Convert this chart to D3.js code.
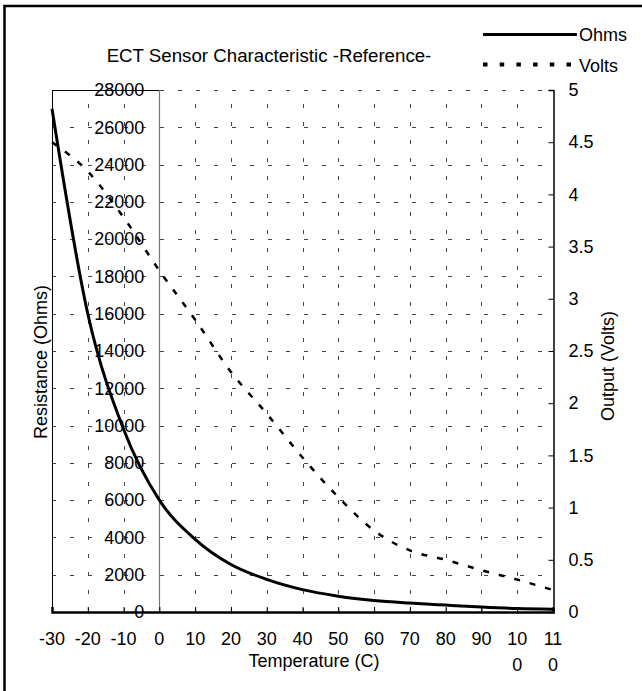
<!DOCTYPE html>
<html>
<head>
<meta charset="utf-8">
<script src="https://d3js.org/d3.v7.min.js"></script>
<style>
  body { margin: 0; background: #fff; }
  svg { display: block; font-family: Arial, "Liberation Sans", sans-serif; }
</style>
</head>
<body>
<script>
// data
const temps = [-30, -20, -10, 0, 10, 20, 30, 40, 50, 60, 70, 80, 90, 100, 110]
const ohms = [27000, 16000, 9800, 6000, 3900, 2550, 1750, 1200, 850, 620, 480, 370, 270, 190, 150]
const volts = [4.50, 4.22, 3.78, 3.27, 2.80, 2.30, 1.90, 1.48, 1.10, 0.78, 0.59, 0.50, 0.40, 0.31, 0.21]
const ohmTicks = d3.range(0, 28001, 2000)
const voltTicks = d3.range(0, 5.01, 0.5)
const seriesNames = ['Ohms', 'Volts']

const W = 642, H = 691
const plot = { left: 52, right: 553, top: 90, bottom: 612 }
const fs = 18

const svg = d3.select('body').append('svg')
  .attr('width', W)
  .attr('height', H)

svg.append('rect').attr('width', W).attr('height', H).attr('fill', '#fff')

// outer frame (runs off the picture on the right and bottom)
svg.append('rect')
  .attr('x', 4.5).attr('y', 6)
  .attr('width', 700).attr('height', 720)
  .attr('fill', 'none')
  .attr('stroke', '#000')
  .attr('stroke-width', 2.5)

const x = d3.scaleLinear().domain([-30, 110]).range([plot.left, plot.right])
const yOhm = d3.scaleLinear().domain([0, 28000]).range([plot.bottom, plot.top])
const yVolt = d3.scaleLinear().domain([0, 5]).range([plot.bottom, plot.top])

/*
GRID
*/

const grid = svg.append('g')
  .attr('stroke', '#444')
  .attr('stroke-width', 1)
  .attr('stroke-dasharray', '4,14')

grid.selectAll('.hgrid')
  .data(ohmTicks.filter(d => d > 0))
  .enter().append('line')
  .attr('x1', plot.left).attr('x2', plot.right)
  .attr('y1', d => Math.round(yOhm(d)) + 0.5)
  .attr('y2', d => Math.round(yOhm(d)) + 0.5)

grid.selectAll('.vgrid')
  .data(temps.filter(d => d > -30 && d < 110 && d !== 0))
  .enter().append('line')
  .attr('x1', d => Math.round(x(d)) + 0.5)
  .attr('x2', d => Math.round(x(d)) + 0.5)
  .attr('y1', plot.bottom).attr('y2', plot.top)

// top border: solid up to the y axis
svg.append('line')
  .attr('x1', plot.left).attr('x2', x(0))
  .attr('y1', plot.top + 0.5).attr('y2', plot.top + 0.5)
  .attr('stroke', '#000')

// left border
svg.append('line')
  .attr('x1', plot.left + 0.5).attr('x2', plot.left + 0.5)
  .attr('y1', plot.top).attr('y2', plot.bottom)
  .attr('stroke', '#000')

// y axis drawn at 0 C
svg.append('line')
  .attr('x1', Math.round(x(0)) + 0.5).attr('x2', Math.round(x(0)) + 0.5)
  .attr('y1', plot.top).attr('y2', plot.bottom)
  .attr('stroke', '#777')
  .attr('stroke-width', 1.2)

/*
AXES
*/

// left axis labels (Ohms)
const leftAxis = svg.append('g')
  .attr('transform', `translate(${x(0) - 15},0)`)
  .call(d3.axisLeft(yOhm).tickValues(ohmTicks).tickSize(0).tickPadding(0).tickFormat(d3.format('d')))
leftAxis.select('.domain').remove()
leftAxis.selectAll('text')
  .attr('font-size', fs)
  .attr('font-family', 'Arial, "Liberation Sans", sans-serif')
  .attr('fill', '#000')

// right axis (Volts)
const rightAxis = svg.append('g')
  .attr('transform', `translate(${plot.right + 0.5},0)`)
  .call(d3.axisRight(yVolt).tickValues(voltTicks).tickSize(-5).tickPadding(15).tickFormat(d3.format('')))
rightAxis.select('.domain').attr('stroke', '#000').attr('stroke-width', 1.5)
rightAxis.selectAll('text')
  .attr('font-size', fs)
  .attr('font-family', 'Arial, "Liberation Sans", sans-serif')
  .attr('fill', '#000')

// bottom axis (Temperature)
const bottomAxis = svg.append('g')
  .attr('transform', `translate(0,${plot.bottom})`)
  .call(d3.axisBottom(x).tickValues(temps).tickSize(-5).tickPadding(0).tickFormat(''))
bottomAxis.select('.domain').attr('stroke', '#000').attr('stroke-width', 2.5)

// tick labels, 3-digit ones wrap like in the reference
const xLabels = svg.append('g')
  .attr('font-size', fs)
  .attr('text-anchor', 'middle')
xLabels.selectAll('text')
  .data(temps)
  .enter().append('text')
  .attr('x', d => x(d))
  .attr('y', 645)
  .each(function (d) {
    const s = String(d)
    const t = d3.select(this)
    if (d >= 100) {
      t.append('tspan').attr('x', x(d)).text(s.slice(0, 2))
      t.append('tspan').attr('x', x(d)).attr('dy', 26).text(s.slice(2))
    } else {
      t.text(s)
    }
  })

/*
LINES
*/

const ohmLine = d3.line()
  .x((d, i) => x(temps[i]))
  .y(d => yOhm(d))
  .curve(d3.curveMonotoneX)

const voltLine = d3.line()
  .x((d, i) => x(temps[i]))
  .y(d => yVolt(d))
  .curve(d3.curveMonotoneX)

svg.append('path')
  .datum(volts)
  .attr('d', voltLine)
  .attr('fill', 'none')
  .attr('stroke', '#000')
  .attr('stroke-width', 2.5)
  .attr('stroke-dasharray', '6,10')

svg.append('path')
  .datum(ohms)
  .attr('d', ohmLine)
  .attr('fill', 'none')
  .attr('stroke', '#000')
  .attr('stroke-width', 3)

/*
TITLES
*/

svg.append('text')
  .attr('x', 269).attr('y', 62)
  .attr('text-anchor', 'middle')
  .attr('font-size', 18.7)
  .text('ECT Sensor Characteristic -Reference-')

svg.append('text')
  .attr('x', 314).attr('y', 667)
  .attr('text-anchor', 'middle')
  .attr('font-size', fs)
  .text('Temperature (C)')

svg.append('text')
  .attr('transform', 'translate(47,362) rotate(-90)')
  .attr('text-anchor', 'middle')
  .attr('font-size', fs)
  .text('Resistance (Ohms)')

svg.append('text')
  .attr('transform', 'translate(614,366) rotate(-90)')
  .attr('text-anchor', 'middle')
  .attr('font-size', fs)
  .text('Output (Volts)')

/*
LEGEND
*/

const legend = svg.append('g')
legend.selectAll('line')
  .data(seriesNames)
  .enter().append('line')
  .attr('x1', 483).attr('x2', 577)
  .attr('y1', (d, i) => 34.5 + i * 30)
  .attr('y2', (d, i) => 34.5 + i * 30)
  .attr('stroke', '#000')
  .attr('stroke-width', (d, i) => i === 0 ? 3 : 4)
  .attr('stroke-dasharray', (d, i) => i === 0 ? null : '4.5,12.2')

legend.selectAll('text')
  .data(seriesNames)
  .enter().append('text')
  .attr('x', 579)
  .attr('y', (d, i) => 41 + i * 31)
  .attr('font-size', fs)
  .text(d => d)
</script>
</body>
</html>
